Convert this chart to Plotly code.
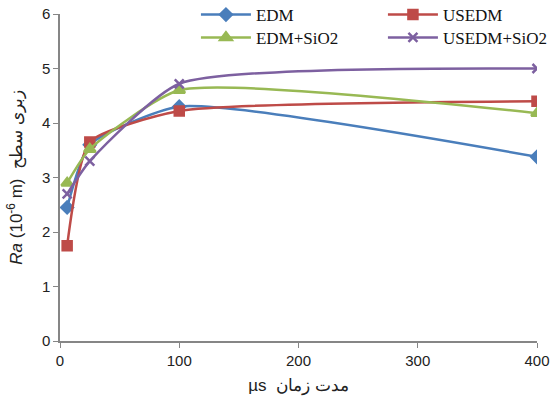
import plotly.graph_objects as go

# Pulse duration (µs) and surface roughness Ra (µm) for each process
pulse_us = [6, 25, 100, 400]
ra_edm = [2.45, 3.6, 4.3, 3.38]
ra_usedm = [1.75, 3.65, 4.22, 4.4]
ra_edm_sio2 = [2.9, 3.52, 4.6, 4.18]
ra_usedm_sio2 = [2.7, 3.3, 4.72, 5.0]

series = [
    ("EDM", ra_edm, "#4a7ebb", "diamond", 9),
    ("USEDM", ra_usedm, "#be4b48", "square", 9),
    ("EDM+SiO2", ra_edm_sio2, "#98b954", "triangle-up", 10),
    ("USEDM+SiO2", ra_usedm_sio2, "#7d60a0", "x-thin", 9),
]

# 2 x 2 legend grid: one legend box per series
legend_ids = ["legend", "legend2", "legend3", "legend4"]
legend_pos = [(0.285, 0.997), (0.677, 0.997), (0.285, 0.927), (0.677, 0.927)]

fig = go.Figure()
for (name, ys, color, symbol, size), lid in zip(series, legend_ids):
    fig.add_trace(go.Scatter(
        x=pulse_us, y=ys, name=name, mode="lines+markers", legend=lid,
        line=dict(color=color, width=2.5, shape="spline", smoothing=0.55),
        marker=dict(symbol=symbol, size=size, color=color,
                    line=dict(color=color, width=2.5)),
    ))

legend_font = dict(family="Liberation Serif, Times New Roman, serif", size=17, color="#111")
legends = {}
for lid, (lx, ly) in zip(legend_ids, legend_pos):
    legends[lid] = dict(
        x=lx, y=ly, xanchor="left", yanchor="middle",
        font=legend_font, bgcolor="rgba(0,0,0,0)", itemwidth=50,
    )

axis_font = dict(family="Liberation Sans, Arial, sans-serif", size=15, color="#222")
fig.update_layout(
    width=550, height=396,
    margin=dict(l=60, r=13, t=14, b=55, autoexpand=False),
    paper_bgcolor="white", plot_bgcolor="white",
    font=axis_font,
    showlegend=True,
    **legends,
    xaxis=dict(
        range=[0, 400], tickvals=[0, 100, 200, 300, 400], showgrid=False,
        zeroline=False, showline=True, linecolor="#868686", linewidth=1.5,
        ticks="outside", ticklen=5, tickcolor="#868686",
        title=dict(text="µs  مدت زمان", font=dict(size=17)),
    ),
    yaxis=dict(
        range=[0, 6], tickvals=[0, 1, 2, 3, 4, 5, 6], showgrid=False,
        zeroline=False, showline=True, linecolor="#868686", linewidth=1.5,
        ticks="outside", ticklen=5, tickcolor="#868686",
        title=dict(text="<i>Ra</i> (10<sup>-6</sup> m)  زبری سطح", font=dict(size=17)),
    ),
)

fig.write_html("out.html")
